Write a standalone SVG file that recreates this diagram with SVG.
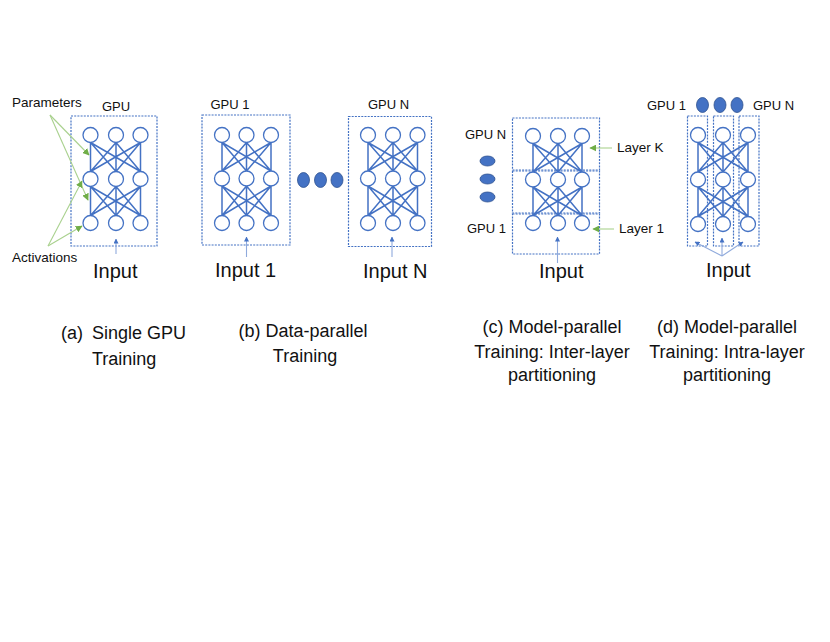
<svg xmlns="http://www.w3.org/2000/svg" width="830" height="642" viewBox="0 0 830 642">
<defs>
<style>
text{font-family:"Liberation Sans",Arial,sans-serif;fill:#111}
.sm{font-size:13px}
.lb{font-size:13.5px}
.in{font-size:20px}
.cap{font-size:18px}
.box{fill:none;stroke:#4472c4;stroke-width:1.2;stroke-dasharray:2 1.2}
.nd{fill:#fff;stroke:#4472c4;stroke-width:1.3}
.ed{fill:none;stroke:#4472c4;stroke-width:1.5}
.dot{fill:#4472c4;stroke:#2f528f;stroke-width:0.8}
.inp{fill:none;stroke:#8faadc;stroke-width:1.1;marker-end:url(#ab)}
.gr{fill:none;stroke:#a9d18e;stroke-width:1.1;marker-end:url(#ag)}
</style>
<marker id="ab" viewBox="0 0 10 10" refX="9" refY="5" markerWidth="5" markerHeight="5" markerUnits="userSpaceOnUse" orient="auto"><path d="M0 0L10 5L0 10z" fill="#4472c4"/></marker>
<marker id="ag" viewBox="0 0 10 10" refX="9" refY="5" markerWidth="7" markerHeight="7" markerUnits="userSpaceOnUse" orient="auto"><path d="M0 0L10 5L0 10z" fill="#70ad47"/></marker>
</defs>
<rect width="830" height="642" fill="#fff"/>

<g id="panel-a">
<rect class="box" x="71" y="116" width="86" height="130"/>
<text class="sm" x="102" y="111">GPU</text>
<path class="ed" d="M90.5 142.5L90.5 171.5M90.5 142.5L116 171.5M90.5 142.5L140.5 171.5M116 142.5L90.5 171.5M116 142.5L116 171.5M116 142.5L140.5 171.5M140.5 142.5L90.5 171.5M140.5 142.5L116 171.5M140.5 142.5L140.5 171.5M90.5 186.5L90.5 215.5M90.5 186.5L116 215.5M90.5 186.5L140.5 215.5M116 186.5L90.5 215.5M116 186.5L116 215.5M116 186.5L140.5 215.5M140.5 186.5L90.5 215.5M140.5 186.5L116 215.5M140.5 186.5L140.5 215.5"/>
<circle class="nd" cx="90.5" cy="135" r="7.5"/><circle class="nd" cx="116" cy="135" r="7.5"/><circle class="nd" cx="140.5" cy="135" r="7.5"/>
<circle class="nd" cx="90.5" cy="179" r="7.5"/><circle class="nd" cx="116" cy="179" r="7.5"/><circle class="nd" cx="140.5" cy="179" r="7.5"/>
<circle class="nd" cx="90.5" cy="223" r="7.5"/><circle class="nd" cx="116" cy="223" r="7.5"/><circle class="nd" cx="140.5" cy="223" r="7.5"/>
<text class="lb" x="12" y="107">Parameters</text>
<text class="lb" x="12" y="262">Activations</text>
<text class="in" x="93" y="278">Input</text>
<text class="cap" x="61" y="339">(a)</text>
<text class="cap" x="92" y="339">Single GPU</text>
<text class="cap" x="92" y="365">Training</text>
</g>

<g id="panel-b1">
<rect class="box" x="202" y="115" width="88" height="130"/>
<text class="sm" x="210.5" y="109">GPU 1</text>
<path class="ed" d="M222 142.5L222 171M222 142.5L246.5 171M222 142.5L271 171M246.5 142.5L222 171M246.5 142.5L246.5 171M246.5 142.5L271 171M271 142.5L222 171M271 142.5L246.5 171M271 142.5L271 171M222 186L222 215.5M222 186L246.5 215.5M222 186L271 215.5M246.5 186L222 215.5M246.5 186L246.5 215.5M246.5 186L271 215.5M271 186L222 215.5M271 186L246.5 215.5M271 186L271 215.5"/>
<circle class="nd" cx="222" cy="135" r="7.5"/><circle class="nd" cx="246.5" cy="135" r="7.5"/><circle class="nd" cx="271" cy="135" r="7.5"/>
<circle class="nd" cx="222" cy="178.5" r="7.5"/><circle class="nd" cx="246.5" cy="178.5" r="7.5"/><circle class="nd" cx="271" cy="178.5" r="7.5"/>
<circle class="nd" cx="222" cy="223" r="7.5"/><circle class="nd" cx="246.5" cy="223" r="7.5"/><circle class="nd" cx="271" cy="223" r="7.5"/>
<text class="in" x="215" y="277">Input 1</text>
</g>

<g id="dots-b">
<ellipse class="dot" cx="303.5" cy="180" rx="6" ry="7.5"/>
<ellipse class="dot" cx="320.5" cy="180" rx="6" ry="7.5"/>
<ellipse class="dot" cx="337" cy="180" rx="6" ry="7.5"/>
</g>

<g id="panel-bN">
<rect class="box" x="348.5" y="116.5" width="83" height="130"/>
<text class="sm" x="368" y="109">GPU N</text>
<path class="ed" d="M368 142.5L368 171M368 142.5L393 171M368 142.5L417.5 171M393 142.5L368 171M393 142.5L393 171M393 142.5L417.5 171M417.5 142.5L368 171M417.5 142.5L393 171M417.5 142.5L417.5 171M368 186L368 215.5M368 186L393 215.5M368 186L417.5 215.5M393 186L368 215.5M393 186L393 215.5M393 186L417.5 215.5M417.5 186L368 215.5M417.5 186L393 215.5M417.5 186L417.5 215.5"/>
<circle class="nd" cx="368" cy="135" r="7.5"/><circle class="nd" cx="393" cy="135" r="7.5"/><circle class="nd" cx="417.5" cy="135" r="7.5"/>
<circle class="nd" cx="368" cy="178.5" r="7.5"/><circle class="nd" cx="393" cy="178.5" r="7.5"/><circle class="nd" cx="417.5" cy="178.5" r="7.5"/>
<circle class="nd" cx="368" cy="223" r="7.5"/><circle class="nd" cx="393" cy="223" r="7.5"/><circle class="nd" cx="417.5" cy="223" r="7.5"/>
<text class="in" x="363" y="278">Input N</text>
<text class="cap" x="303" y="337" text-anchor="middle">(b) Data-parallel</text>
<text class="cap" x="305" y="362" text-anchor="middle">Training</text>
</g>

<g id="panel-c">
<rect class="box" x="512.5" y="118" width="87" height="52"/>
<rect class="box" x="512.5" y="171" width="87" height="42"/>
<rect class="box" x="512.5" y="214" width="87" height="40"/>
<path class="ed" d="M533 143.5L533 172M533 143.5L558 172M533 143.5L582 172M558 143.5L533 172M558 143.5L558 172M558 143.5L582 172M582 143.5L533 172M582 143.5L558 172M582 143.5L582 172M533 187L533 215.5M533 187L558 215.5M533 187L582 215.5M558 187L533 215.5M558 187L558 215.5M558 187L582 215.5M582 187L533 215.5M582 187L558 215.5M582 187L582 215.5"/>
<circle class="nd" cx="533" cy="136" r="7.5"/><circle class="nd" cx="558" cy="136" r="7.5"/><circle class="nd" cx="582" cy="136" r="7.5"/>
<circle class="nd" cx="533" cy="179.5" r="7.5"/><circle class="nd" cx="558" cy="179.5" r="7.5"/><circle class="nd" cx="582" cy="179.5" r="7.5"/>
<circle class="nd" cx="533" cy="223" r="7.5"/><circle class="nd" cx="558" cy="223" r="7.5"/><circle class="nd" cx="582" cy="223" r="7.5"/>
<text class="sm" x="465" y="139">GPU N</text>
<text class="sm" x="467" y="233">GPU 1</text>
<ellipse class="dot" cx="487.5" cy="161" rx="7.5" ry="5"/>
<ellipse class="dot" cx="487.5" cy="179" rx="7.5" ry="5"/>
<ellipse class="dot" cx="487.5" cy="197" rx="7.5" ry="5"/>
<text class="lb" x="617" y="152">Layer K</text>
<text class="lb" x="619" y="233">Layer 1</text>
<text class="in" x="539" y="278">Input</text>
<text class="cap" x="552" y="333" text-anchor="middle">(c) Model-parallel</text>
<text class="cap" x="552" y="358" text-anchor="middle">Training: Inter-layer</text>
<text class="cap" x="552" y="381" text-anchor="middle">partitioning</text>
</g>

<g id="panel-d">
<rect class="box" x="687.5" y="116" width="20" height="130"/>
<rect class="box" x="713.5" y="116" width="20" height="130"/>
<rect class="box" x="739" y="116" width="20" height="130"/>
<path class="ed" d="M698 142.5L698 172M698 142.5L723 172M698 142.5L748 172M723 142.5L698 172M723 142.5L723 172M723 142.5L748 172M748 142.5L698 172M748 142.5L723 172M748 142.5L748 172M698 187L698 216.5M698 187L723 216.5M698 187L748 216.5M723 187L698 216.5M723 187L723 216.5M723 187L748 216.5M748 187L698 216.5M748 187L723 216.5M748 187L748 216.5"/>
<circle class="nd" cx="698" cy="135" r="7.5"/><circle class="nd" cx="723" cy="135" r="7.5"/><circle class="nd" cx="748" cy="135" r="7.5"/>
<circle class="nd" cx="698" cy="179.5" r="7.5"/><circle class="nd" cx="723" cy="179.5" r="7.5"/><circle class="nd" cx="748" cy="179.5" r="7.5"/>
<circle class="nd" cx="698" cy="224" r="7.5"/><circle class="nd" cx="723" cy="224" r="7.5"/><circle class="nd" cx="748" cy="224" r="7.5"/>
<text class="sm" x="647" y="110">GPU 1</text>
<ellipse class="dot" cx="702.5" cy="105" rx="6" ry="7.5"/>
<ellipse class="dot" cx="720" cy="105" rx="6" ry="7.5"/>
<ellipse class="dot" cx="737" cy="105" rx="6" ry="7.5"/>
<text class="sm" x="753" y="110">GPU N</text>
<text class="in" x="706" y="277">Input</text>
<text class="cap" x="727" y="333" text-anchor="middle">(d) Model-parallel</text>
<text class="cap" x="727" y="358" text-anchor="middle">Training: Intra-layer</text>
<text class="cap" x="727" y="381" text-anchor="middle">partitioning</text>
</g>

<g id="connectors">
<path class="gr" d="M50 115L89 155"/>
<path class="gr" d="M50 115L88 200"/>
<path class="gr" d="M48 246L82 181"/>
<path class="gr" d="M48 246L82 226"/>
<path class="gr" d="M612 148L590 148"/>
<path class="gr" d="M614 229L593 229"/>
<path class="inp" d="M116 254L116 239"/>
<path class="inp" d="M246.5 257L246.5 237"/>
<path class="inp" d="M392 257L392 237"/>
<path class="inp" d="M557.5 263L557.5 237"/>
<path class="inp" d="M722 256L695 242"/>
<path class="inp" d="M722 256L722 238"/>
<path class="inp" d="M722 256L743 242"/>
</g>
</svg>
